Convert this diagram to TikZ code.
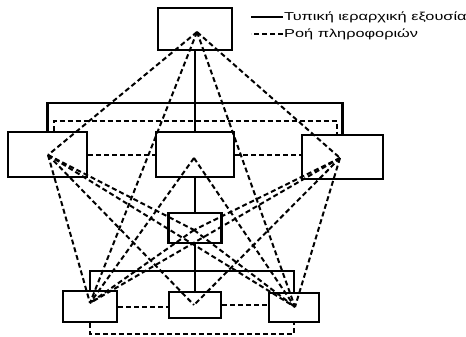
\documentclass[tikz,border=0pt]{standalone}
\usepackage{fontspec}
\setmainfont{Liberation Sans}

\begin{document}
\begin{tikzpicture}[x=1pt, y=-1pt,
    unit/.style={draw, line width=2.2pt, inner sep=0pt},
    auth/.style={line width=2.2pt},
    info/.style={line width=2pt, dash pattern=on 5pt off 3pt},
    legtext/.style={anchor=west, inner sep=1pt, font=\fontsize{11.5}{13}\selectfont}]
    \useasboundingbox (0,0) rectangle (466,337);

    % Units
    \draw (195,29)    node[unit, minimum width=74pt, minimum height=42pt] (top) {};
    \draw (47.5,154.5) node[unit, minimum width=79pt, minimum height=45pt] (ml) {};
    \draw (195,154.5) node[unit, minimum width=78pt, minimum height=45pt] (mc) {};
    \draw (342.5,157) node[unit, minimum width=81pt, minimum height=44pt] (mr) {};
    \draw (195,228)   node[unit, minimum width=53pt, minimum height=30pt] (sm) {};
    \draw (90,306.5)  node[unit, minimum width=54pt, minimum height=31pt] (bl) {};
    \draw (195,305)   node[unit, minimum width=52pt, minimum height=26pt] (bc) {};
    \draw (294,307.5) node[unit, minimum width=50pt, minimum height=29pt] (br) {};

    % Meeting points of the information lines
    \coordinate (htop) at (197,32);
    \coordinate (hml) at (48,155);
    \coordinate (hmc) at (194,158);
    \coordinate (hmr) at (340,158);
    \coordinate (hsm) at (194,230);
    \coordinate (hbl) at (90,303);
    \coordinate (hbc) at (194,305);
    \coordinate (hbr) at (295,307);

    % Legend
    \draw (283,17) node[legtext] (lgauth) {\scalebox{1.42}[1]{Τυπική ιεραρχική εξουσία}};
    \draw (283,34) node[legtext] (lginfo) {\scalebox{1.42}[1]{Ροή πληροφοριών}};
    \draw[line width=1.4pt] (lgauth.west) -- ++(-32,0);
    \draw[line width=1.4pt, dash pattern=on 5pt off 3pt] (lginfo.west) -- ++(-32,0);

    % Formal authority
    \draw[auth] (top.south) -- (mc.north);
    \draw[auth] (ml.north) -- ++(0,-28) -| (mr.north);
    \draw[auth] (mc.south) -- (sm.north);
    \draw[auth] (sm.south) -- (bc.north);
    \draw[auth] (bl.north) -- ++(0,-19) -| (br.north);

    % Information flow, side by side
    \draw[info] ([xshift=6pt]ml.north) -- ++(0,-10) -| ([xshift=-6pt]mr.north);
    \draw[info] (ml.east) -- (mc.west);
    \draw[info] (mc.east) -- (mc.east -| mr.west);
    \draw[info] (bl.east) -- (bl.east -| bc.west);
    \draw[info] (bc.east) -- (bc.east -| br.west);
    \draw[info] (bl.south) -- ++(0,11) -| (br.south);

    % Information flow, across levels
    \draw[info] (htop) -- (hml);
    \draw[info] (htop) -- (hmr);
    \draw[info] (htop) -- (hbl);
    \draw[info] (htop) -- (hbr);
    \draw[info] (hml) -- (hsm);
    \draw[info] (hml) -- (hbl);
    \draw[info] (hml) -- (hbc);
    \draw[info] (hml) -- (hbr);
    \draw[info] (hmr) -- (hsm);
    \draw[info] (hmr) -- (hbl);
    \draw[info] (hmr) -- (hbc);
    \draw[info] (hmr) -- (hbr);
    \draw[info] (hmc) -- (hbl);
    \draw[info] (hmc) -- (hbr);
    \draw[info] (hsm) -- (hbl);
    \draw[info] (hsm) -- (hbr);
\end{tikzpicture}
\end{document}
